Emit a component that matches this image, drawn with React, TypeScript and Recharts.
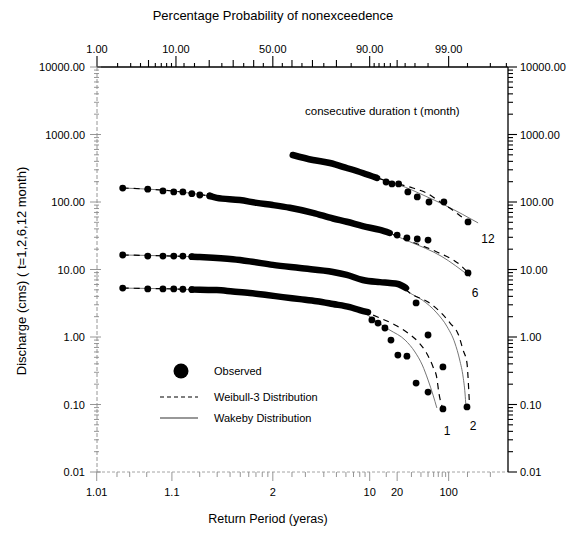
import { ComposedChart, Line, Scatter, XAxis, YAxis } from "recharts";

// all x values are percentage probability of nonexceedence, y values discharge (cms)
type Pt = [number, number];

const TOP_LABELS = [1, 10, 50, 90, 99];
const TOP_MEDIUM = [5, 20, 30, 40, 60, 70, 80, 95];
const TOP_MINOR = [2, 3, 4, 6, 7, 8, 9, 12, 15, 25, 35, 45, 55, 65, 75, 85, 91, 92, 93, 94, 96, 97, 98, 99.5, 99.8, 99.9];
const BOTTOM_LABELS = [1.01, 1.1, 2, 10, 20, 100];
const BOTTOM_MINOR = [1.02, 1.03, 1.05, 1.2, 1.3, 1.4, 1.5, 1.6, 1.7, 1.8, 1.9, 2.5, 3, 4, 5, 6, 7, 8, 9, 15, 30, 40, 50, 60, 70, 80, 90, 200, 500];
const Y_DECADES = [0.01, 0.1, 1, 10, 100, 1000, 10000];

// t = 12 month
const band12: Pt[] = [[60.4, 497], [70.2, 419], [77.5, 378], [83.6, 319], [88.3, 269], [91.6, 227]];
const obs12: Pt[] = [[93.3, 198], [94.25, 185], [95.2, 185], [96.3, 141], [97.2, 119], [98.06, 100], [98.82, 100], [99.51, 50.6]];
const weib12: Pt[] = [[60.4, 497], [70.2, 419], [77.5, 378], [83.6, 319], [88.3, 269], [91.6, 227], [94.7, 191], [96.8, 161], [97.9, 136], [98.66, 100], [99.13, 76], [99.41, 58], [99.56, 49]];
const wake12: Pt[] = [[60.4, 497], [70.2, 419], [77.5, 378], [83.6, 319], [88.3, 269], [91.6, 227], [95.3, 179], [97.8, 123], [98.85, 90], [99.39, 66], [99.67, 49]];

// t = 6 month
const dots6: Pt[] = [[2.35, 161], [4.9, 155], [7.3, 146], [9.5, 141], [11.7, 141], [14.2, 133], [16.7, 127], [20.2, 123]];
const band6: Pt[] = [[20.2, 123], [22.9, 115], [33.1, 107], [41.6, 97], [50, 90], [58.9, 82], [70.2, 69], [78.7, 57], [83.6, 51], [88.3, 44], [92.2, 38.5], [93.9, 34.7]];
const obs6: Pt[] = [[95.0, 32.4], [96.2, 29.3], [97.2, 28.3], [98.0, 27.3], [99.51, 8.9]];
const weib6: Pt[] = [[2.35, 161], [9.5, 145], [20.2, 123], [41.6, 97], [58.9, 82], [70.2, 69], [83.6, 51], [92.2, 38.5], [96.5, 26.4], [98.5, 18.2], [99.34, 11.7], [99.55, 8.3]];
const wake6: Pt[] = [[2.35, 161], [9.5, 145], [20.2, 123], [41.6, 97], [58.9, 82], [70.2, 69], [83.6, 51], [92.2, 38.5], [96.5, 25.8], [98.7, 15.8], [99.55, 7.8]];

// t = 2 month
const dots2: Pt[] = [[2.35, 16.4], [4.9, 15.8], [7.3, 15.8], [9.5, 15.8], [11.7, 15.8], [14.2, 15.5]];
const band2: Pt[] = [[14.2, 15.5], [16.7, 15.3], [29.8, 14.2], [38.0, 13.2], [50, 11.7], [64.0, 10.5], [78.7, 9.2], [83.6, 8.3], [88.3, 7.0], [92.2, 6.5], [93.9, 6.3], [95.1, 6.1], [96.1, 5.3]];
const obs2: Pt[] = [[97.1, 3.2], [98.0, 1.07], [98.78, 0.36], [99.49, 0.092]];
const weib2: Pt[] = [[2.35, 16.4], [9.5, 15.8], [16.7, 15.3], [38, 13.2], [64, 10.5], [83.6, 8.3], [92.2, 6.5], [95.1, 5.9], [96.8, 4.2], [98.0, 3.3], [98.66, 2.35], [99.05, 1.61], [99.3, 1.07], [99.41, 0.64], [99.49, 0.41], [99.51, 0.255], [99.525, 0.153], [99.535, 0.105]];
const wake2: Pt[] = [[2.35, 16.4], [9.5, 15.8], [16.7, 15.3], [38, 13.2], [64, 10.5], [83.6, 8.3], [92.2, 6.5], [95.1, 5.9], [96.5, 4.5], [97.6, 3.53], [98.5, 2.27], [98.95, 1.41], [99.2, 0.815], [99.33, 0.456], [99.41, 0.255], [99.45, 0.148], [99.47, 0.092]];

// t = 1 month
const dots1: Pt[] = [[2.35, 5.3], [4.9, 5.15], [7.3, 5.15], [9.5, 5.15], [11.7, 5.1], [14.2, 5.05]];
const band1: Pt[] = [[14.2, 5.05], [16.7, 5.0], [22.9, 4.96], [29.8, 4.72], [38.0, 4.48], [46.8, 4.18], [55.3, 3.9], [64.0, 3.64], [72.0, 3.39], [78.7, 3.08], [84.6, 2.77], [87.5, 2.5], [89.6, 2.33]];
const obs1: Pt[] = [[90.5, 1.79], [91.8, 1.61], [93.1, 1.36], [94.1, 0.9], [95.1, 0.54], [96.2, 0.52], [97.1, 0.208], [98.0, 0.153], [98.78, 0.086]];
const weib1: Pt[] = [[2.35, 5.3], [9.5, 5.15], [16.7, 5.0], [29.8, 4.72], [46.8, 4.18], [64.0, 3.64], [78.7, 3.08], [87.5, 2.5], [92.2, 1.91], [94.7, 1.51], [96.3, 1.15], [97.3, 0.84], [97.9, 0.58], [98.3, 0.36], [98.5, 0.247], [98.6, 0.148], [98.75, 0.092]];
const wake1: Pt[] = [[2.35, 5.3], [9.5, 5.15], [16.7, 5.0], [29.8, 4.72], [46.8, 4.18], [64.0, 3.64], [78.7, 3.08], [87.5, 2.5], [91.6, 1.67], [93.9, 1.27], [96.0, 0.9], [97.0, 0.6], [97.6, 0.385], [98.0, 0.231], [98.3, 0.138], [98.5, 0.089]];

// inverse normal cdf (Acklam), percent -> standard normal variate
function probit(pct: number): number {
  const p = pct / 100;
  const a = [-39.69683028665376, 220.9460984245205, -275.9285104469687, 138.357751867269, -30.66479806614716, 2.506628277459239];
  const b = [-54.47609879822406, 161.5858368580409, -155.6989798598866, 66.80131188771972, -13.28068155288572];
  const c = [-0.007784894002430293, -0.3223964580411365, -2.400758277161838, -2.549732539343734, 4.374664141464968, 2.938163982698783];
  const d = [0.007784695709041462, 0.3224671290700398, 2.445134137142996, 3.754408661907416];
  const lo = 0.02425;
  if (p < lo || p > 1 - lo) {
    const q = Math.sqrt(-2 * Math.log(p < lo ? p : 1 - p));
    const v = (((((c[0] * q + c[1]) * q + c[2]) * q + c[3]) * q + c[4]) * q + c[5]) /
      ((((d[0] * q + d[1]) * q + d[2]) * q + d[3]) * q + 1);
    return p < lo ? v : -v;
  }
  const q = p - 0.5;
  const r = q * q;
  return ((((((a[0] * r + a[1]) * r + a[2]) * r + a[3]) * r + a[4]) * r + a[5]) * q) /
    (((((b[0] * r + b[1]) * r + b[2]) * r + b[3]) * r + b[4]) * r + 1);
}

const returnToPct = (t: number) => 100 * (1 - 1 / t);
const toXY = (pts: Pt[]) => pts.map(([p, v]) => ({ x: probit(p), y: v }));
const near = (a: number, b: number) => Math.abs(a - b) < 1e-7;

const X_DOMAIN = [probit(1), probit(99.907)];
const topTicks = [...TOP_LABELS, ...TOP_MEDIUM, ...TOP_MINOR].map(probit);
const bottomTicks = [...BOTTOM_LABELS, ...BOTTOM_MINOR].map((t) => probit(returnToPct(t)));
const yTicks: number[] = [];
Y_DECADES.forEach((d) => {
  yTicks.push(d);
  if (d < 10000) for (let k = 2; k <= 9; k++) yTicks.push(+(d * k).toPrecision(3));
});
const isDecade = (v: number) => Math.abs(Math.log10(v) - Math.round(Math.log10(v))) < 1e-6;

const FONT = "'Liberation Sans', Arial, sans-serif";

function TopTick(props: any) {
  const { x, y, payload } = props;
  const z = payload.value;
  const major = TOP_LABELS.find((p) => near(probit(p), z));
  const medium = TOP_MEDIUM.some((p) => near(probit(p), z));
  const len = major !== undefined ? 11 : medium ? 7 : 4;
  return (
    <g>
      <line x1={x} x2={x} y1={y} y2={y - len} stroke="#000" strokeWidth={1.1} />
      {major !== undefined && (
        <text x={x} y={y - 14} textAnchor="middle" fontSize={11} fontFamily={FONT} fill="#000">
          {major.toFixed(2)}
        </text>
      )}
    </g>
  );
}

function BottomTick(props: any) {
  const { x, y, payload } = props;
  const z = payload.value;
  const major = BOTTOM_LABELS.find((t) => near(probit(returnToPct(t)), z));
  return (
    <g>
      <line x1={x} x2={x} y1={y} y2={y + (major !== undefined ? 9 : 5)} stroke="#8a8a8a" strokeWidth={0.9} />
      {major !== undefined && (
        <text x={x} y={y + 24} textAnchor="middle" fontSize={11} fontFamily={FONT} fill="#000">
          {String(major)}
        </text>
      )}
    </g>
  );
}

function LeftTick(props: any) {
  const { x, y, payload } = props;
  const v = payload.value;
  const major = isDecade(v);
  return (
    <g>
      <line x1={major ? x - 7 : x - 3} x2={major ? x + 4 : x + 2} y1={y} y2={y} stroke="#8a8a8a" strokeWidth={0.9} />
      {major && (
        <text x={x - 12} y={y + 4} textAnchor="end" fontSize={11} fontFamily={FONT} fill="#000">
          {v.toFixed(2)}
        </text>
      )}
    </g>
  );
}

function RightTick(props: any) {
  const { x, y, payload } = props;
  const v = payload.value;
  const major = isDecade(v);
  return (
    <g>
      <line x1={x} x2={x + (major ? 9 : 5)} y1={y} y2={y} stroke="#000" strokeWidth={1.1} />
      {major && (
        <text x={x + 12} y={y + 4} textAnchor="start" fontSize={11} fontFamily={FONT} fill="#000">
          {v.toFixed(2)}
        </text>
      )}
    </g>
  );
}

const Dot = (props: any) => <circle cx={props.cx} cy={props.cy} r={3.4} fill="#000" />;

const bands = [band12, band6, band2, band1];
const dots = [obs12, dots6, obs6, dots2, obs2, dots1, obs1];
const weibull = [weib12, weib6, weib2, weib1];
const wakeby = [wake12, wake6, wake2, wake1];

export default function App() {
  return (
    <div style={{ position: "absolute", left: 0, top: 0, width: 571, height: 538, background: "#fff" }}>
      <ComposedChart width={571} height={538} margin={{ top: 0, right: 0, bottom: 0, left: 0 }}>
        <XAxis
          xAxisId="top"
          orientation="top"
          type="number"
          dataKey="x"
          domain={X_DOMAIN}
          allowDataOverflow
          ticks={topTicks}
          interval={0}
          height={67}
          tickSize={0}
          tickMargin={0}
          tickLine={false}
          axisLine={{ stroke: "#000", strokeWidth: 1.3 }}
          tick={TopTick}
        />
        <XAxis
          xAxisId="bottom"
          orientation="bottom"
          type="number"
          dataKey="x"
          domain={X_DOMAIN}
          allowDataOverflow
          ticks={bottomTicks}
          interval={0}
          height={66}
          tickSize={0}
          tickMargin={0}
          tickLine={false}
          axisLine={{ stroke: "#9a9a9a", strokeWidth: 0.9, strokeDasharray: "3 2" }}
          tick={BottomTick}
        />
        <YAxis
          yAxisId="left"
          orientation="left"
          type="number"
          scale="log"
          domain={[0.01, 10000]}
          allowDataOverflow
          ticks={yTicks}
          interval={0}
          width={97}
          tickSize={0}
          tickMargin={0}
          tickLine={false}
          axisLine={{ stroke: "#8a8a8a", strokeWidth: 0.9, strokeDasharray: "4 2" }}
          tick={LeftTick}
        />
        <YAxis
          yAxisId="right"
          orientation="right"
          type="number"
          scale="log"
          domain={[0.01, 10000]}
          allowDataOverflow
          ticks={yTicks}
          interval={0}
          width={63}
          tickSize={0}
          tickMargin={0}
          tickLine={false}
          axisLine={{ stroke: "#000", strokeWidth: 1.3 }}
          tick={RightTick}
        />
        {wakeby.map((s, i) => (
          <Line
            key={"wk" + i}
            xAxisId="bottom"
            yAxisId="left"
            data={toXY(s)}
            dataKey="y"
            type="monotone"
            stroke="#666"
            strokeWidth={0.9}
            dot={false}
            isAnimationActive={false}
          />
        ))}
        {weibull.map((s, i) => (
          <Line
            key={"wb" + i}
            xAxisId="bottom"
            yAxisId="left"
            data={toXY(s)}
            dataKey="y"
            type="monotone"
            stroke="#000"
            strokeWidth={1.2}
            strokeDasharray="6 5"
            dot={false}
            isAnimationActive={false}
          />
        ))}
        {bands.map((s, i) => (
          <Line
            key={"bd" + i}
            xAxisId="bottom"
            yAxisId="left"
            data={toXY(s)}
            dataKey="y"
            type="monotone"
            stroke="#000"
            strokeWidth={6.5}
            strokeLinecap="round"
            dot={false}
            isAnimationActive={false}
          />
        ))}
        {dots.map((s, i) => (
          <Scatter
            key={"ob" + i}
            xAxisId="bottom"
            yAxisId="left"
            data={toXY(s)}
            dataKey="y"
            shape={Dot}
            isAnimationActive={false}
          />
        ))}
      </ComposedChart>
      <svg
        width={571}
        height={538}
        style={{ position: "absolute", left: 0, top: 0, pointerEvents: "none" }}
        fontFamily={FONT}
      >
        <text x={273} y={20} textAnchor="middle" fontSize={13}>Percentage Probability of nonexceedence</text>
        <text x={268} y={523} textAnchor="middle" fontSize={12.5}>Return Period (yeras)</text>
        <text x={26} y={271} textAnchor="middle" fontSize={13} transform="rotate(-90 26 271)">
          Discharge (cms) ( t=1,2,6,12 month)
        </text>
        <text x={305} y={115} fontSize={11.5}>consecutive duration t (month)</text>
        <text x={488} y={243} textAnchor="middle" fontSize={12}>12</text>
        <text x={475} y={297} textAnchor="middle" fontSize={12}>6</text>
        <text x={447} y={435} textAnchor="middle" fontSize={12}>1</text>
        <text x={473} y={430} textAnchor="middle" fontSize={12}>2</text>
        <circle cx={181} cy={371} r={7.5} fill="#000" />
        <text x={214} y={375} fontSize={11}>Observed</text>
        <line x1={160} x2={198} y1={397} y2={397} stroke="#000" strokeWidth={1.2} strokeDasharray="4 3" />
        <text x={214} y={401} fontSize={11}>Weibull-3 Distribution</text>
        <line x1={160} x2={198} y1={418} y2={418} stroke="#333" strokeWidth={1.2} />
        <text x={214} y={422} fontSize={11}>Wakeby Distribution</text>
      </svg>
    </div>
  );
}
